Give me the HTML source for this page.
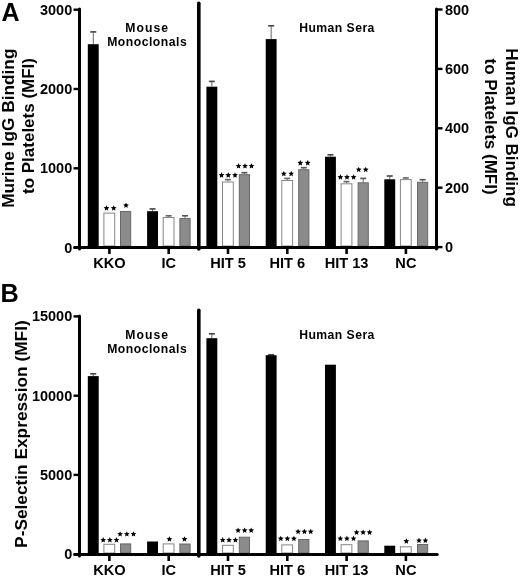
<!DOCTYPE html>
<html><head><meta charset="utf-8"><style>
html,body{margin:0;padding:0;background:#fff;width:520px;height:577px;overflow:hidden}
svg{display:block;filter:grayscale(1)}
</style></head><body>
<svg width="520" height="577" viewBox="0 0 520 577"><rect width="520" height="577" fill="#fff"/><text x="1.4" y="21.3" style="font-family:'Liberation Sans',sans-serif;font-weight:bold;font-size:25px">A</text><text x="0.5" y="301.9" style="font-family:'Liberation Sans',sans-serif;font-weight:bold;font-size:25.3px">B</text><line x1="93.25" y1="32.3" x2="93.25" y2="44.2" stroke="#666" stroke-width="1"/><line x1="90.25" y1="31.90" x2="96.25" y2="31.90" stroke="#444" stroke-width="1.6"/><rect x="87.80" y="44.2" width="10.9" height="201.80" fill="#000"/><rect x="103.90" y="213.10" width="10.8" height="32.90" fill="#fff" stroke="#858585" stroke-width="1"/><rect x="120.50" y="211.50" width="10.2" height="34.50" fill="#8b8b8b" stroke="#686868" stroke-width="1"/><line x1="152.55" y1="209.3" x2="152.55" y2="211.2" stroke="#666" stroke-width="1"/><line x1="149.55" y1="208.90" x2="155.55" y2="208.90" stroke="#444" stroke-width="1.6"/><line x1="168.60" y1="216.20000000000002" x2="168.60" y2="217.0" stroke="#666" stroke-width="1"/><line x1="165.60" y1="215.80" x2="171.60" y2="215.80" stroke="#666" stroke-width="1.6"/><line x1="185.00" y1="216.20000000000002" x2="185.00" y2="218.0" stroke="#666" stroke-width="1"/><line x1="182.00" y1="215.80" x2="188.00" y2="215.80" stroke="#555" stroke-width="1.6"/><rect x="147.10" y="211.2" width="10.9" height="34.80" fill="#000"/><rect x="163.20" y="217.50" width="10.8" height="28.50" fill="#fff" stroke="#858585" stroke-width="1"/><rect x="179.90" y="218.50" width="10.2" height="27.50" fill="#8b8b8b" stroke="#686868" stroke-width="1"/><line x1="211.85" y1="81.8" x2="211.85" y2="86.7" stroke="#666" stroke-width="1"/><line x1="208.85" y1="81.40" x2="214.85" y2="81.40" stroke="#444" stroke-width="1.6"/><line x1="227.90" y1="180.0" x2="227.90" y2="181.5" stroke="#666" stroke-width="1"/><line x1="224.90" y1="179.60" x2="230.90" y2="179.60" stroke="#666" stroke-width="1.6"/><line x1="244.40" y1="173.10000000000002" x2="244.40" y2="174.2" stroke="#666" stroke-width="1"/><line x1="241.40" y1="172.70" x2="247.40" y2="172.70" stroke="#555" stroke-width="1.6"/><rect x="206.40" y="86.7" width="10.9" height="159.30" fill="#000"/><rect x="222.50" y="182.00" width="10.8" height="64.00" fill="#fff" stroke="#858585" stroke-width="1"/><rect x="239.30" y="174.70" width="10.2" height="71.30" fill="#8b8b8b" stroke="#686868" stroke-width="1"/><line x1="271.15" y1="26.2" x2="271.15" y2="39.1" stroke="#666" stroke-width="1"/><line x1="268.15" y1="25.80" x2="274.15" y2="25.80" stroke="#444" stroke-width="1.6"/><line x1="287.20" y1="178.8" x2="287.20" y2="180.0" stroke="#666" stroke-width="1"/><line x1="284.20" y1="178.40" x2="290.20" y2="178.40" stroke="#666" stroke-width="1.6"/><line x1="303.80" y1="168.10000000000002" x2="303.80" y2="169.2" stroke="#666" stroke-width="1"/><line x1="300.80" y1="167.70" x2="306.80" y2="167.70" stroke="#555" stroke-width="1.6"/><rect x="265.70" y="39.1" width="10.9" height="206.90" fill="#000"/><rect x="281.80" y="180.50" width="10.8" height="65.50" fill="#fff" stroke="#858585" stroke-width="1"/><rect x="298.70" y="169.70" width="10.2" height="76.30" fill="#8b8b8b" stroke="#686868" stroke-width="1"/><line x1="330.45" y1="155.20000000000002" x2="330.45" y2="156.7" stroke="#666" stroke-width="1"/><line x1="327.45" y1="154.80" x2="333.45" y2="154.80" stroke="#444" stroke-width="1.6"/><line x1="346.50" y1="182.0" x2="346.50" y2="183.3" stroke="#666" stroke-width="1"/><line x1="343.50" y1="181.60" x2="349.50" y2="181.60" stroke="#666" stroke-width="1.6"/><line x1="363.20" y1="178.8" x2="363.20" y2="182.3" stroke="#666" stroke-width="1"/><line x1="360.20" y1="178.40" x2="366.20" y2="178.40" stroke="#555" stroke-width="1.6"/><rect x="325.00" y="156.7" width="10.9" height="89.30" fill="#000"/><rect x="341.10" y="183.80" width="10.8" height="62.20" fill="#fff" stroke="#858585" stroke-width="1"/><rect x="358.10" y="182.80" width="10.2" height="63.20" fill="#8b8b8b" stroke="#686868" stroke-width="1"/><line x1="389.75" y1="176.4" x2="389.75" y2="179.3" stroke="#666" stroke-width="1"/><line x1="386.75" y1="176.00" x2="392.75" y2="176.00" stroke="#444" stroke-width="1.6"/><line x1="405.80" y1="178.3" x2="405.80" y2="179.1" stroke="#666" stroke-width="1"/><line x1="402.80" y1="177.90" x2="408.80" y2="177.90" stroke="#666" stroke-width="1.6"/><line x1="422.60" y1="180.10000000000002" x2="422.60" y2="181.8" stroke="#666" stroke-width="1"/><line x1="419.60" y1="179.70" x2="425.60" y2="179.70" stroke="#555" stroke-width="1.6"/><rect x="384.30" y="179.3" width="10.9" height="66.70" fill="#000"/><rect x="400.40" y="179.60" width="10.8" height="66.40" fill="#fff" stroke="#858585" stroke-width="1"/><rect x="417.50" y="182.30" width="10.2" height="63.70" fill="#8b8b8b" stroke="#686868" stroke-width="1"/><line x1="74.8" y1="247.5" x2="437.2" y2="247.5" stroke="#000" stroke-width="3" stroke-linecap="round"/><line x1="79.5" y1="9.0" x2="79.5" y2="249" stroke="#000" stroke-width="3" stroke-linecap="round"/><line x1="198.8" y1="3.2" x2="198.8" y2="249" stroke="#000" stroke-width="3.6" stroke-linecap="round"/><line x1="73.5" y1="9.7" x2="79" y2="9.7" stroke="#000" stroke-width="2.4"/><text transform="translate(72.2,14.70) scale(1,1.06)" text-anchor="end" style="font-family:'Liberation Sans',sans-serif;font-weight:bold;font-size:14.5px">3000</text><line x1="73.5" y1="89.0" x2="79" y2="89.0" stroke="#000" stroke-width="2.4"/><text transform="translate(72.2,94.00) scale(1,1.06)" text-anchor="end" style="font-family:'Liberation Sans',sans-serif;font-weight:bold;font-size:14.5px">2000</text><line x1="73.5" y1="168.3" x2="79" y2="168.3" stroke="#000" stroke-width="2.4"/><text transform="translate(72.2,173.30) scale(1,1.06)" text-anchor="end" style="font-family:'Liberation Sans',sans-serif;font-weight:bold;font-size:14.5px">1000</text><line x1="73.5" y1="247.6" x2="79" y2="247.6" stroke="#000" stroke-width="2.4"/><text transform="translate(72.2,252.60) scale(1,1.06)" text-anchor="end" style="font-family:'Liberation Sans',sans-serif;font-weight:bold;font-size:14.5px">0</text><line x1="109.4" y1="249" x2="109.4" y2="254" stroke="#000" stroke-width="2.6"/><text x="109.4" y="267.7" text-anchor="middle" style="font-family:'Liberation Sans',sans-serif;font-weight:bold;font-size:14.6px">KKO</text><line x1="168.7" y1="249" x2="168.7" y2="254" stroke="#000" stroke-width="2.6"/><text x="168.7" y="267.7" text-anchor="middle" style="font-family:'Liberation Sans',sans-serif;font-weight:bold;font-size:14.6px">IC</text><line x1="227.99999999999997" y1="249" x2="227.99999999999997" y2="254" stroke="#000" stroke-width="2.6"/><text x="227.99999999999997" y="267.7" text-anchor="middle" style="font-family:'Liberation Sans',sans-serif;font-weight:bold;font-size:14.6px">HIT 5</text><line x1="287.3" y1="249" x2="287.3" y2="254" stroke="#000" stroke-width="2.6"/><text x="287.3" y="267.7" text-anchor="middle" style="font-family:'Liberation Sans',sans-serif;font-weight:bold;font-size:14.6px">HIT 6</text><line x1="346.6" y1="249" x2="346.6" y2="254" stroke="#000" stroke-width="2.6"/><text x="346.6" y="267.7" text-anchor="middle" style="font-family:'Liberation Sans',sans-serif;font-weight:bold;font-size:14.6px">HIT 13</text><line x1="405.90000000000003" y1="249" x2="405.90000000000003" y2="254" stroke="#000" stroke-width="2.6"/><text x="405.90000000000003" y="267.7" text-anchor="middle" style="font-family:'Liberation Sans',sans-serif;font-weight:bold;font-size:14.6px">NC</text><line x1="436.5" y1="9.0" x2="436.5" y2="249" stroke="#000" stroke-width="3" stroke-linecap="round"/><line x1="437" y1="9.5" x2="442.5" y2="9.5" stroke="#000" stroke-width="2.4"/><text transform="translate(445.0,14.50) scale(1,1.06)" style="font-family:'Liberation Sans',sans-serif;font-weight:bold;font-size:14.5px">800</text><line x1="437" y1="68.9" x2="442.5" y2="68.9" stroke="#000" stroke-width="2.4"/><text transform="translate(445.0,73.90) scale(1,1.06)" style="font-family:'Liberation Sans',sans-serif;font-weight:bold;font-size:14.5px">600</text><line x1="437" y1="128.3" x2="442.5" y2="128.3" stroke="#000" stroke-width="2.4"/><text transform="translate(445.0,133.30) scale(1,1.06)" style="font-family:'Liberation Sans',sans-serif;font-weight:bold;font-size:14.5px">400</text><line x1="437" y1="187.7" x2="442.5" y2="187.7" stroke="#000" stroke-width="2.4"/><text transform="translate(445.0,192.70) scale(1,1.06)" style="font-family:'Liberation Sans',sans-serif;font-weight:bold;font-size:14.5px">200</text><line x1="437" y1="247.1" x2="442.5" y2="247.1" stroke="#000" stroke-width="2.4"/><text transform="translate(445.0,252.10) scale(1,1.06)" style="font-family:'Liberation Sans',sans-serif;font-weight:bold;font-size:14.5px">0</text><text x="147.2" y="31.9" text-anchor="middle" style="font-family:'Liberation Sans',sans-serif;font-weight:bold;font-size:12.2px;letter-spacing:1.1px">Mouse</text><text x="147.2" y="46.2" text-anchor="middle" style="font-family:'Liberation Sans',sans-serif;font-weight:bold;font-size:12.2px;letter-spacing:0.5px">Monoclonals</text><text x="337" y="31.6" text-anchor="middle" style="font-family:'Liberation Sans',sans-serif;font-weight:bold;font-size:12.2px;letter-spacing:0.45px">Human Sera</text><text transform="translate(14.0,128.2) rotate(-90)" text-anchor="middle" style="font-family:'Liberation Sans',sans-serif;font-weight:bold;font-size:17.3px">Murine IgG Binding</text><text transform="translate(34.3,126.0) rotate(-90)" text-anchor="middle" style="font-family:'Liberation Sans',sans-serif;font-weight:bold;font-size:17px">to Platelets (MFI)</text><path d="M106.50,205.20 L107.32,207.07 L109.35,207.27 L107.83,208.63 L108.26,210.63 L106.50,209.60 L104.74,210.63 L105.17,208.63 L103.65,207.27 L105.68,207.07ZM113.70,205.20 L114.52,207.07 L116.55,207.27 L115.03,208.63 L115.46,210.63 L113.70,209.60 L111.94,210.63 L112.37,208.63 L110.85,207.27 L112.88,207.07ZM126.00,202.45 L126.82,204.32 L128.85,204.52 L127.33,205.88 L127.76,207.88 L126.00,206.85 L124.24,207.88 L124.67,205.88 L123.15,204.52 L125.18,204.32ZM221.50,172.25 L222.32,174.12 L224.35,174.32 L222.83,175.68 L223.26,177.68 L221.50,176.65 L219.74,177.68 L220.17,175.68 L218.65,174.32 L220.68,174.12ZM228.25,172.25 L229.07,174.12 L231.10,174.32 L229.58,175.68 L230.01,177.68 L228.25,176.65 L226.49,177.68 L226.92,175.68 L225.40,174.32 L227.43,174.12ZM235.00,172.25 L235.82,174.12 L237.85,174.32 L236.33,175.68 L236.76,177.68 L235.00,176.65 L233.24,177.68 L233.67,175.68 L232.15,174.32 L234.18,174.12ZM238.50,163.05 L239.32,164.92 L241.35,165.12 L239.83,166.48 L240.26,168.48 L238.50,167.45 L236.74,168.48 L237.17,166.48 L235.65,165.12 L237.68,164.92ZM245.00,163.05 L245.82,164.92 L247.85,165.12 L246.33,166.48 L246.76,168.48 L245.00,167.45 L243.24,168.48 L243.67,166.48 L242.15,165.12 L244.18,164.92ZM251.50,163.05 L252.32,164.92 L254.35,165.12 L252.83,166.48 L253.26,168.48 L251.50,167.45 L249.74,168.48 L250.17,166.48 L248.65,165.12 L250.68,164.92ZM283.80,170.80 L284.62,172.67 L286.65,172.87 L285.13,174.23 L285.56,176.23 L283.80,175.20 L282.04,176.23 L282.47,174.23 L280.95,172.87 L282.98,172.67ZM291.20,170.80 L292.02,172.67 L294.05,172.87 L292.53,174.23 L292.96,176.23 L291.20,175.20 L289.44,176.23 L289.87,174.23 L288.35,172.87 L290.38,172.67ZM300.30,160.00 L301.12,161.87 L303.15,162.07 L301.63,163.43 L302.06,165.43 L300.30,164.40 L298.54,165.43 L298.97,163.43 L297.45,162.07 L299.48,161.87ZM307.70,160.00 L308.52,161.87 L310.55,162.07 L309.03,163.43 L309.46,165.43 L307.70,164.40 L305.94,165.43 L306.37,163.43 L304.85,162.07 L306.88,161.87ZM340.40,174.20 L341.22,176.07 L343.25,176.27 L341.73,177.63 L342.16,179.63 L340.40,178.60 L338.64,179.63 L339.07,177.63 L337.55,176.27 L339.58,176.07ZM347.00,174.20 L347.82,176.07 L349.85,176.27 L348.33,177.63 L348.76,179.63 L347.00,178.60 L345.24,179.63 L345.67,177.63 L344.15,176.27 L346.18,176.07ZM353.60,174.20 L354.42,176.07 L356.45,176.27 L354.93,177.63 L355.36,179.63 L353.60,178.60 L351.84,179.63 L352.27,177.63 L350.75,176.27 L352.78,176.07ZM358.70,166.70 L359.52,168.57 L361.55,168.77 L360.03,170.13 L360.46,172.13 L358.70,171.10 L356.94,172.13 L357.37,170.13 L355.85,168.77 L357.88,168.57ZM365.70,166.70 L366.52,168.57 L368.55,168.77 L367.03,170.13 L367.46,172.13 L365.70,171.10 L363.94,172.13 L364.37,170.13 L362.85,168.77 L364.88,168.57Z" fill="#000"/><text transform="translate(505.6,127.5) rotate(90)" text-anchor="middle" style="font-family:'Liberation Sans',sans-serif;font-weight:bold;font-size:17px">Human IgG Binding</text><text transform="translate(485.3,126.6) rotate(90)" text-anchor="middle" style="font-family:'Liberation Sans',sans-serif;font-weight:bold;font-size:17px">to Platelets (MFI)</text><line x1="93.25" y1="374.2" x2="93.25" y2="376.1" stroke="#666" stroke-width="1"/><line x1="90.25" y1="373.80" x2="96.25" y2="373.80" stroke="#444" stroke-width="1.6"/><rect x="87.80" y="376.1" width="10.9" height="176.90" fill="#000"/><rect x="103.90" y="544.30" width="10.8" height="8.70" fill="#fff" stroke="#858585" stroke-width="1"/><rect x="120.50" y="543.90" width="10.2" height="9.10" fill="#8b8b8b" stroke="#686868" stroke-width="1"/><rect x="147.10" y="541.5" width="10.9" height="11.50" fill="#000"/><rect x="163.20" y="543.90" width="10.8" height="9.10" fill="#fff" stroke="#858585" stroke-width="1"/><rect x="179.90" y="544.00" width="10.2" height="9.00" fill="#8b8b8b" stroke="#686868" stroke-width="1"/><line x1="211.85" y1="334.2" x2="211.85" y2="338.2" stroke="#666" stroke-width="1"/><line x1="208.85" y1="333.80" x2="214.85" y2="333.80" stroke="#444" stroke-width="1.6"/><rect x="206.40" y="338.2" width="10.9" height="214.80" fill="#000"/><rect x="222.50" y="545.30" width="10.8" height="7.70" fill="#fff" stroke="#858585" stroke-width="1"/><rect x="239.30" y="537.20" width="10.2" height="15.80" fill="#8b8b8b" stroke="#686868" stroke-width="1"/><line x1="271.15" y1="355.2" x2="271.15" y2="355.2" stroke="#666" stroke-width="1"/><line x1="268.15" y1="354.80" x2="274.15" y2="354.80" stroke="#444" stroke-width="1.6"/><rect x="265.70" y="355.2" width="10.9" height="197.80" fill="#000"/><rect x="281.80" y="544.90" width="10.8" height="8.10" fill="#fff" stroke="#858585" stroke-width="1"/><rect x="298.70" y="539.50" width="10.2" height="13.50" fill="#8b8b8b" stroke="#686868" stroke-width="1"/><rect x="325.00" y="364.7" width="10.9" height="188.30" fill="#000"/><rect x="341.10" y="544.70" width="10.8" height="8.30" fill="#fff" stroke="#858585" stroke-width="1"/><rect x="358.10" y="540.90" width="10.2" height="12.10" fill="#8b8b8b" stroke="#686868" stroke-width="1"/><rect x="384.30" y="545.7" width="10.9" height="7.30" fill="#000"/><rect x="400.40" y="546.80" width="10.8" height="6.20" fill="#fff" stroke="#858585" stroke-width="1"/><rect x="417.50" y="544.50" width="10.2" height="8.50" fill="#8b8b8b" stroke="#686868" stroke-width="1"/><line x1="74.8" y1="554.5" x2="437.2" y2="554.5" stroke="#000" stroke-width="3" stroke-linecap="round"/><line x1="79.5" y1="316.0" x2="79.5" y2="556.0" stroke="#000" stroke-width="3" stroke-linecap="round"/><line x1="198.8" y1="310.2" x2="198.8" y2="556.0" stroke="#000" stroke-width="3.6" stroke-linecap="round"/><line x1="73.5" y1="316.4" x2="79" y2="316.4" stroke="#000" stroke-width="2.4"/><text transform="translate(72.2,321.40) scale(1,1.06)" text-anchor="end" style="font-family:'Liberation Sans',sans-serif;font-weight:bold;font-size:14.5px">15000</text><line x1="73.5" y1="395.7" x2="79" y2="395.7" stroke="#000" stroke-width="2.4"/><text transform="translate(72.2,400.70) scale(1,1.06)" text-anchor="end" style="font-family:'Liberation Sans',sans-serif;font-weight:bold;font-size:14.5px">10000</text><line x1="73.5" y1="474.9" x2="79" y2="474.9" stroke="#000" stroke-width="2.4"/><text transform="translate(72.2,479.90) scale(1,1.06)" text-anchor="end" style="font-family:'Liberation Sans',sans-serif;font-weight:bold;font-size:14.5px">5000</text><line x1="73.5" y1="554.3" x2="79" y2="554.3" stroke="#000" stroke-width="2.4"/><text transform="translate(72.2,559.30) scale(1,1.06)" text-anchor="end" style="font-family:'Liberation Sans',sans-serif;font-weight:bold;font-size:14.5px">0</text><line x1="109.4" y1="556.0" x2="109.4" y2="561.0" stroke="#000" stroke-width="2.6"/><text x="109.4" y="574.7" text-anchor="middle" style="font-family:'Liberation Sans',sans-serif;font-weight:bold;font-size:14.6px">KKO</text><line x1="168.7" y1="556.0" x2="168.7" y2="561.0" stroke="#000" stroke-width="2.6"/><text x="168.7" y="574.7" text-anchor="middle" style="font-family:'Liberation Sans',sans-serif;font-weight:bold;font-size:14.6px">IC</text><line x1="227.99999999999997" y1="556.0" x2="227.99999999999997" y2="561.0" stroke="#000" stroke-width="2.6"/><text x="227.99999999999997" y="574.7" text-anchor="middle" style="font-family:'Liberation Sans',sans-serif;font-weight:bold;font-size:14.6px">HIT 5</text><line x1="287.3" y1="556.0" x2="287.3" y2="561.0" stroke="#000" stroke-width="2.6"/><text x="287.3" y="574.7" text-anchor="middle" style="font-family:'Liberation Sans',sans-serif;font-weight:bold;font-size:14.6px">HIT 6</text><line x1="346.6" y1="556.0" x2="346.6" y2="561.0" stroke="#000" stroke-width="2.6"/><text x="346.6" y="574.7" text-anchor="middle" style="font-family:'Liberation Sans',sans-serif;font-weight:bold;font-size:14.6px">HIT 13</text><line x1="405.90000000000003" y1="556.0" x2="405.90000000000003" y2="561.0" stroke="#000" stroke-width="2.6"/><text x="405.90000000000003" y="574.7" text-anchor="middle" style="font-family:'Liberation Sans',sans-serif;font-weight:bold;font-size:14.6px">NC</text><text x="147.2" y="338.9" text-anchor="middle" style="font-family:'Liberation Sans',sans-serif;font-weight:bold;font-size:12.2px;letter-spacing:1.1px">Mouse</text><text x="147.2" y="353.2" text-anchor="middle" style="font-family:'Liberation Sans',sans-serif;font-weight:bold;font-size:12.2px;letter-spacing:0.5px">Monoclonals</text><text x="337" y="338.6" text-anchor="middle" style="font-family:'Liberation Sans',sans-serif;font-weight:bold;font-size:12.2px;letter-spacing:0.45px">Human Sera</text><text transform="translate(27.0,434.1) rotate(-90)" text-anchor="middle" style="font-family:'Liberation Sans',sans-serif;font-weight:bold;font-size:17.3px">P-Selectin Expression (MFI)</text><path d="M103.20,537.10 L104.02,538.97 L106.05,539.17 L104.53,540.53 L104.96,542.53 L103.20,541.50 L101.44,542.53 L101.87,540.53 L100.35,539.17 L102.38,538.97ZM109.85,537.10 L110.67,538.97 L112.70,539.17 L111.18,540.53 L111.61,542.53 L109.85,541.50 L108.09,542.53 L108.52,540.53 L107.00,539.17 L109.03,538.97ZM116.50,537.10 L117.32,538.97 L119.35,539.17 L117.83,540.53 L118.26,542.53 L116.50,541.50 L114.74,542.53 L115.17,540.53 L113.65,539.17 L115.68,538.97ZM120.10,531.15 L120.92,533.02 L122.95,533.22 L121.43,534.58 L121.86,536.58 L120.10,535.55 L118.34,536.58 L118.77,534.58 L117.25,533.22 L119.28,533.02ZM126.80,531.15 L127.62,533.02 L129.65,533.22 L128.13,534.58 L128.56,536.58 L126.80,535.55 L125.04,536.58 L125.47,534.58 L123.95,533.22 L125.98,533.02ZM133.50,531.15 L134.32,533.02 L136.35,533.22 L134.83,534.58 L135.26,536.58 L133.50,535.55 L131.74,536.58 L132.17,534.58 L130.65,533.22 L132.68,533.02ZM169.40,536.20 L170.22,538.07 L172.25,538.27 L170.73,539.63 L171.16,541.63 L169.40,540.60 L167.64,541.63 L168.07,539.63 L166.55,538.27 L168.58,538.07ZM184.50,536.20 L185.32,538.07 L187.35,538.27 L185.83,539.63 L186.26,541.63 L184.50,540.60 L182.74,541.63 L183.17,539.63 L181.65,538.27 L183.68,538.07ZM222.70,537.10 L223.52,538.97 L225.55,539.17 L224.03,540.53 L224.46,542.53 L222.70,541.50 L220.94,542.53 L221.37,540.53 L219.85,539.17 L221.88,538.97ZM229.05,537.10 L229.87,538.97 L231.90,539.17 L230.38,540.53 L230.81,542.53 L229.05,541.50 L227.29,542.53 L227.72,540.53 L226.20,539.17 L228.23,538.97ZM235.40,537.10 L236.22,538.97 L238.25,539.17 L236.73,540.53 L237.16,542.53 L235.40,541.50 L233.64,542.53 L234.07,540.53 L232.55,539.17 L234.58,538.97ZM238.10,527.45 L238.92,529.32 L240.95,529.52 L239.43,530.88 L239.86,532.88 L238.10,531.85 L236.34,532.88 L236.77,530.88 L235.25,529.52 L237.28,529.32ZM244.65,527.45 L245.47,529.32 L247.50,529.52 L245.98,530.88 L246.41,532.88 L244.65,531.85 L242.89,532.88 L243.32,530.88 L241.80,529.52 L243.83,529.32ZM251.20,527.45 L252.02,529.32 L254.05,529.52 L252.53,530.88 L252.96,532.88 L251.20,531.85 L249.44,532.88 L249.87,530.88 L248.35,529.52 L250.38,529.32ZM280.80,535.70 L281.62,537.57 L283.65,537.77 L282.13,539.13 L282.56,541.13 L280.80,540.10 L279.04,541.13 L279.47,539.13 L277.95,537.77 L279.98,537.57ZM287.35,535.70 L288.17,537.57 L290.20,537.77 L288.68,539.13 L289.11,541.13 L287.35,540.10 L285.59,541.13 L286.02,539.13 L284.50,537.77 L286.53,537.57ZM293.90,535.70 L294.72,537.57 L296.75,537.77 L295.23,539.13 L295.66,541.13 L293.90,540.10 L292.14,541.13 L292.57,539.13 L291.05,537.77 L293.08,537.57ZM298.10,528.70 L298.92,530.57 L300.95,530.77 L299.43,532.13 L299.86,534.13 L298.10,533.10 L296.34,534.13 L296.77,532.13 L295.25,530.77 L297.28,530.57ZM304.40,528.70 L305.22,530.57 L307.25,530.77 L305.73,532.13 L306.16,534.13 L304.40,533.10 L302.64,534.13 L303.07,532.13 L301.55,530.77 L303.58,530.57ZM310.70,528.70 L311.52,530.57 L313.55,530.77 L312.03,532.13 L312.46,534.13 L310.70,533.10 L308.94,534.13 L309.37,532.13 L307.85,530.77 L309.88,530.57ZM340.30,535.60 L341.12,537.47 L343.15,537.67 L341.63,539.03 L342.06,541.03 L340.30,540.00 L338.54,541.03 L338.97,539.03 L337.45,537.67 L339.48,537.47ZM346.90,535.60 L347.72,537.47 L349.75,537.67 L348.23,539.03 L348.66,541.03 L346.90,540.00 L345.14,541.03 L345.57,539.03 L344.05,537.67 L346.08,537.47ZM353.50,535.60 L354.32,537.47 L356.35,537.67 L354.83,539.03 L355.26,541.03 L353.50,540.00 L351.74,541.03 L352.17,539.03 L350.65,537.67 L352.68,537.47ZM356.60,529.45 L357.42,531.32 L359.45,531.52 L357.93,532.88 L358.36,534.88 L356.60,533.85 L354.84,534.88 L355.27,532.88 L353.75,531.52 L355.78,531.32ZM363.10,529.45 L363.92,531.32 L365.95,531.52 L364.43,532.88 L364.86,534.88 L363.10,533.85 L361.34,534.88 L361.77,532.88 L360.25,531.52 L362.28,531.32ZM369.60,529.45 L370.42,531.32 L372.45,531.52 L370.93,532.88 L371.36,534.88 L369.60,533.85 L367.84,534.88 L368.27,532.88 L366.75,531.52 L368.78,531.32ZM406.35,538.25 L407.17,540.12 L409.20,540.32 L407.68,541.68 L408.11,543.68 L406.35,542.65 L404.59,543.68 L405.02,541.68 L403.50,540.32 L405.53,540.12ZM419.00,537.60 L419.82,539.47 L421.85,539.67 L420.33,541.03 L420.76,543.03 L419.00,542.00 L417.24,543.03 L417.67,541.03 L416.15,539.67 L418.18,539.47ZM425.40,537.60 L426.22,539.47 L428.25,539.67 L426.73,541.03 L427.16,543.03 L425.40,542.00 L423.64,543.03 L424.07,541.03 L422.55,539.67 L424.58,539.47Z" fill="#000"/></svg>
</body></html>
